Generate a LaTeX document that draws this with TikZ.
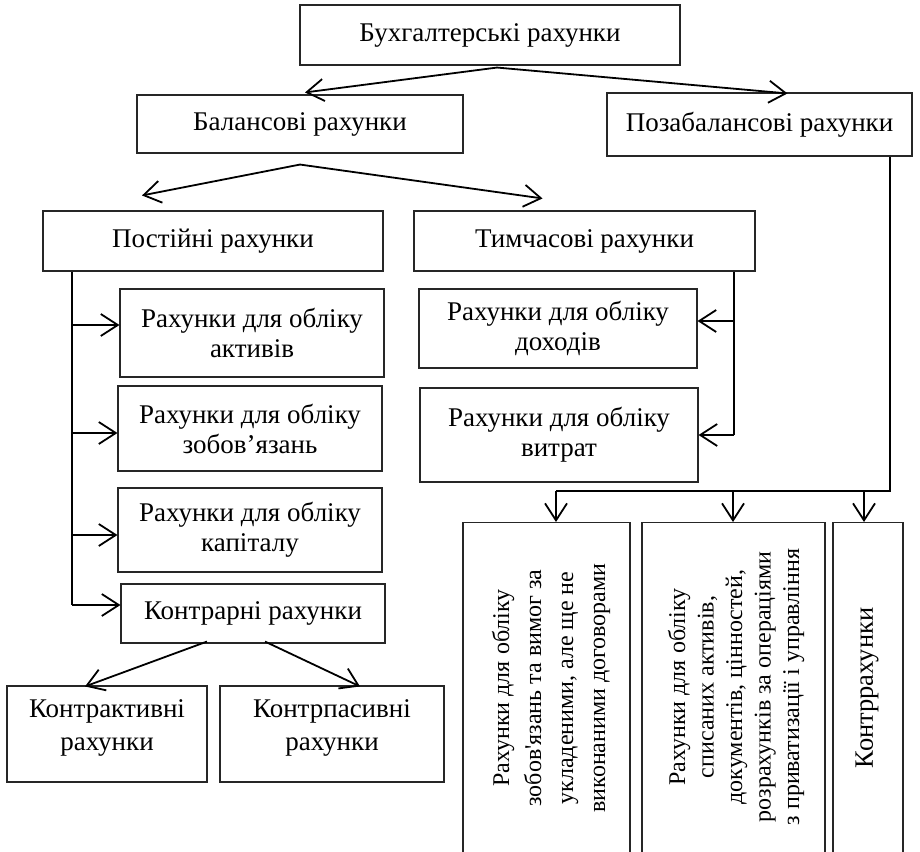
\documentclass[tikz,border=0pt]{standalone}
\usepackage{fontspec}
\setmainfont{Liberation Serif}
\usetikzlibrary{arrows.meta,calc}
\begin{document}
\begin{tikzpicture}[x=1pt,y=-1pt,
  box/.style={draw=black!85,line width=1.1pt,inner sep=0pt,align=center,
              font=\fontsize{27}{30}\selectfont},
  raised/.style={label={[align=center,inner sep=0pt,font=\fontsize{27}{33}\selectfont,yshift=6pt]center:#1}},
  vtext/.style={rotate=90,inner sep=0pt,align=center},
  conn/.style={line width=1.8pt,draw=black},
  arr/.style={conn,-{Straight Barb[length=17pt,width=22pt]}}]
\useasboundingbox (0,0) rectangle (920,851);

% upper levels
\node[box,minimum width=380pt,minimum height=60pt] (top) at (490,35) {Бухгалтерські рахунки};
\node[box,minimum width=326pt,minimum height=58pt] (bal) at (300,124) {Балансові рахунки};
\node[box,minimum width=305pt,minimum height=63pt] (poza) at (759.5,124.5) {Позабалансові рахунки};
\node[box,minimum width=340pt,minimum height=60pt] (post) at (213,241) {Постійні рахунки};
\node[box,minimum width=341pt,minimum height=60pt] (tymch) at (584.5,241) {Тимчасові рахунки};

% permanent accounts
\node[box,minimum width=264pt,minimum height=88pt] (akt) at (252,333) {Рахунки для обліку\\активів};
\node[box,minimum width=264pt,minimum height=85pt] (zob) at (250,428.5) {Рахунки для обліку\\зобов’язань};
\node[box,minimum width=264pt,minimum height=84pt] (kap) at (250,530) {Рахунки для обліку\\капіталу};
\node[box,minimum width=264pt,minimum height=59pt] (kontr) at (253,613.5) {Контрарні рахунки};
\node[box,minimum width=200pt,minimum height=96pt,raised={Контрактивні\\рахунки}] (kakt) at (107,734) {};
\node[box,minimum width=224pt,minimum height=96pt,raised={Контрпасивні\\рахунки}] (kpas) at (332,734) {};

% temporary accounts
\node[box,minimum width=278pt,minimum height=79pt] (dokh) at (558,328.5) {Рахунки для обліку\\доходів};
\node[box,minimum width=278pt,minimum height=94pt] (vytr) at (559,435) {Рахунки для обліку\\витрат};

% off-balance accounts (tall boxes running off the bottom edge)
\node[box,minimum width=167pt,minimum height=360pt,anchor=north] (v1) at (546.5,522) {};
\node[box,minimum width=183pt,minimum height=360pt,anchor=north] (v2) at (733.5,522) {};
\node[box,minimum width=70pt,minimum height=360pt,anchor=north] (v3) at (868,522) {};
\node[vtext,font=\fontsize{24}{32}\selectfont] (v1t) at (551,688)
  {Рахунки для обліку\\зобов\textquotesingle язань та вимог за\\укладеними, але ще не\\виконаними договорами};
\node[vtext,font=\fontsize{24}{28.5}\selectfont] (v2t) at (736,687)
  {Рахунки для обліку\\списаних активів,\\документів, цінностей,\\розрахунків за операціями\\з приватизації і управління};
\node[vtext,font=\fontsize{26.5}{30}\selectfont] (v3t) at (867,688) {Контррахунки};

% top splits
\coordinate (tsplit) at ($(top.south)+(7,2)$);
\draw[arr] (tsplit) -- ($(bal.north)+(5,-2)$);
\draw[arr] (tsplit) -- ($(poza.north)+(28,1)$);
\coordinate (bsplit) at ($(bal.south)+(0,11)$);
\draw[arr] (bsplit) -- ($(post.north)+(-71,-15)$);
\draw[arr] (bsplit) -- ($(tymch.north)+(-42,-12)$);

% permanent accounts trunk
\coordinate (lt0) at (post.south -| 72,0);
\coordinate (lt1) at (72,325);
\coordinate (lt2) at (72,433);
\coordinate (lt3) at (72,535);
\coordinate (lt4) at (72,605);
\draw[conn] (lt0) -- (lt4);
\draw[arr] (lt1) -- (lt1 -| akt.west);
\draw[arr] (lt2) -- (lt2 -| zob.west);
\draw[arr] (lt3) -- (lt3 -| kap.west);
\draw[arr] (lt4) -- (lt4 -| kontr.west);

% contra accounts
\draw[arr] ($(kontr.south)+(-46,-2)$) -- ($(kakt.north)+(-22,1)$);
\draw[arr] ($(kontr.south)+(12,-2)$) -- ($(kpas.north)+(28,1)$);

% temporary accounts trunk
\coordinate (rt0) at (tymch.south -| 734,0);
\coordinate (rt1) at (734,321);
\coordinate (rt2) at (734,435);
\draw[conn] (rt0) -- (rt2);
\draw[arr] (rt1) -- (rt1 -| dokh.east);
\draw[arr] (rt2) -- (rt2 -| vytr.east);

% off-balance trunk
\coordinate (pt0) at (poza.south -| 890,0);
\coordinate (pt1) at (890,491);
\coordinate (pb1) at (556,491);
\coordinate (pb2) at (733,491);
\coordinate (pb3) at (864,491);
\draw[conn] (pt0) -- (pt1) -- (pb1);
\draw[arr] (pb1) -- (pb1 |- v1.north);
\draw[arr] (pb2) -- (pb2 |- v2.north);
\draw[arr] (pb3) -- (pb3 |- v3.north);
\end{tikzpicture}
\end{document}
